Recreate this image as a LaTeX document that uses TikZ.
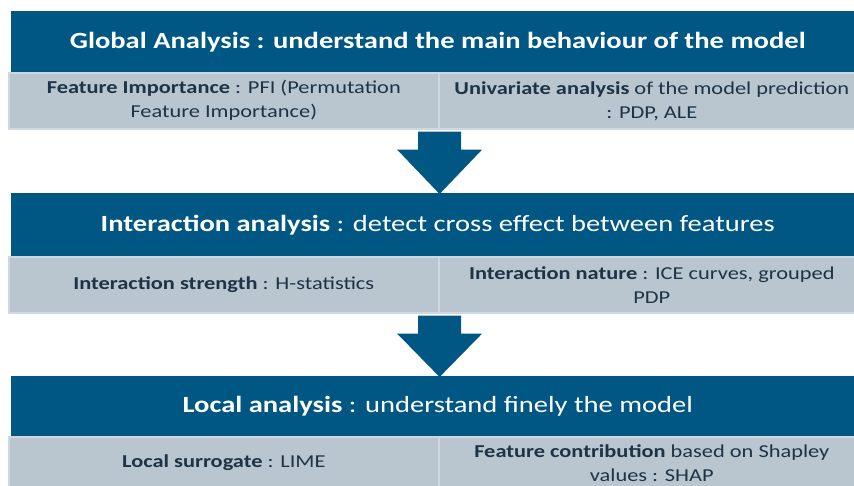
\documentclass[tikz,border=0pt]{standalone}
\usepackage{fontspec}
\setmainfont{Carlito}[FakeStretch=1.23]
\usetikzlibrary{calc}
\definecolor{hdr}{RGB}{0,87,132}
\definecolor{cellfill}{RGB}{185,197,207}
\definecolor{cellline}{RGB}{208,216,223}
\definecolor{celltext}{RGB}{30,52,70}
\tikzset{
  header/.style={anchor=north west, fill=hdr, text=white, inner sep=0pt,
    minimum width=853pt, align=center, font=\fontsize{23.2}{27}\selectfont},
  cell/.style={anchor=north west, fill=cellfill, draw=cellline, line width=1.6pt,
    inner sep=0pt, minimum height=56pt, align=center, text=celltext,
    font=\fontsize{18.2}{24}\selectfont},
  leftcell/.style={cell, minimum width=430pt},
  rightcell/.style={cell, minimum width=426pt},
  blockarrow/.style={fill=hdr}
}
\newcommand{\downblock}[2]{%
  \fill[blockarrow] ($(#1)+(-21.5,2)$) -- ($(#1)+(21.5,2)$) -- ($(#1)+(21.5,20)$)
    -- ($(#1)+(42.5,20)$) -- ($(#2)+(0,1)$) -- ($(#1)+(-42.5,20)$)
    -- ($(#1)+(-21.5,20)$) -- cycle;}
\begin{document}
\begin{tikzpicture}[x=1pt,y=-1pt]
\clip (0,0) rectangle (854,486);
\fill[white] (0,0) rectangle (854,486);
% row 1
\node[header, minimum height=61pt] (h1) at (11,11) {\bfseries Global Analysis : understand the main behaviour of the model};
\node[leftcell] (c1l) at (8,72) {\bfseries Feature Importance \mdseries: PFI (Permutation\\Feature Importance)};
\node[rightcell] (c1r) at (438,72) {\bfseries Univariate analysis \mdseries of the model prediction\\: PDP, ALE};
% row 2
\node[header, minimum height=63pt] (h2) at (11,193) {\bfseries Interaction analysis \mdseries: detect cross effect between features};
\node[leftcell] (c2l) at (8,256) {\bfseries Interaction strength \mdseries: H-statistics};
\node[rightcell] (c2r) at (438,256) {\bfseries Interaction nature \mdseries: ICE curves, grouped\\PDP};
% row 3
\node[header, minimum height=60pt] (h3) at (11,376) {\bfseries Local analysis \mdseries: understand finely the model};
\node[leftcell, minimum height=52pt] (c3l) at (8,436) {\bfseries Local surrogate \mdseries: LIME};
\node[rightcell, minimum height=52pt] (c3r) at (438,436) {\bfseries Feature contribution \mdseries based on Shapley\\values : SHAP};
% arrows
\coordinate (a1s) at (c1l.south east);
\coordinate (a1e) at (h2.north -| c1l.south east);
\coordinate (a2s) at (c2l.south east);
\coordinate (a2e) at (h3.north -| c2l.south east);
\downblock{a1s}{a1e}
\downblock{a2s}{a2e}
\end{tikzpicture}
\end{document}
